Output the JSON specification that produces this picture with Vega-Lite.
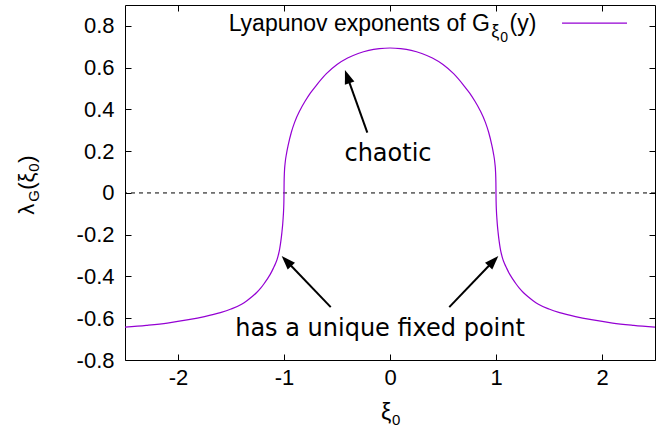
{
  "$schema": "https://vega.github.io/schema/vega-lite/v6.json",
  "width": 530,
  "height": 355,
  "autosize": {"type": "none"},
  "padding": {"left": 125, "top": 5, "right": 16, "bottom": 77},
  "background": "white",
  "config": {
    "view": {"stroke": "#000", "strokeWidth": 1},
    "axis": {"domain": false, "grid": false, "ticks": true, "tickColor": "#000", "tickSize": -6, "tickWidth": 1, "labelFont": "Liberation Sans", "labelFontSize": 22, "labelColor": "#000"}
  },
  "datasets": {
    "curve": [
      {"xi": -2.5, "lam": -0.643}, {"xi": -2.3, "lam": -0.634}, {"xi": -2.1, "lam": -0.623}, {"xi": -1.9, "lam": -0.607},
      {"xi": -1.75, "lam": -0.592}, {"xi": -1.6, "lam": -0.573}, {"xi": -1.5, "lam": -0.556}, {"xi": -1.4, "lam": -0.533},
      {"xi": -1.35, "lam": -0.516}, {"xi": -1.3, "lam": -0.496}, {"xi": -1.26, "lam": -0.478}, {"xi": -1.22, "lam": -0.456},
      {"xi": -1.19, "lam": -0.436}, {"xi": -1.16, "lam": -0.414}, {"xi": -1.13, "lam": -0.39}, {"xi": -1.1, "lam": -0.36},
      {"xi": -1.08, "lam": -0.338}, {"xi": -1.065, "lam": -0.318}, {"xi": -1.05, "lam": -0.29}, {"xi": -1.04, "lam": -0.265},
      {"xi": -1.03, "lam": -0.232}, {"xi": -1.02, "lam": -0.19}, {"xi": -1.012, "lam": -0.148}, {"xi": -1.008, "lam": -0.12},
      {"xi": -1.004, "lam": -0.085}, {"xi": -1.001, "lam": -0.04}, {"xi": -1.0, "lam": 0.0},
      {"xi": -0.999, "lam": 0.05}, {"xi": -0.996, "lam": 0.1}, {"xi": -0.99, "lam": 0.14}, {"xi": -0.975, "lam": 0.192},
      {"xi": -0.96, "lam": 0.23}, {"xi": -0.93, "lam": 0.292}, {"xi": -0.9, "lam": 0.338}, {"xi": -0.85, "lam": 0.395},
      {"xi": -0.8, "lam": 0.44}, {"xi": -0.75, "lam": 0.479}, {"xi": -0.7, "lam": 0.512}, {"xi": -0.6, "lam": 0.571},
      {"xi": -0.5, "lam": 0.615}, {"xi": -0.4, "lam": 0.646}, {"xi": -0.3, "lam": 0.668}, {"xi": -0.2, "lam": 0.683},
      {"xi": -0.1, "lam": 0.691}, {"xi": 0.0, "lam": 0.694},
      {"xi": 0.1, "lam": 0.691}, {"xi": 0.2, "lam": 0.683}, {"xi": 0.3, "lam": 0.668}, {"xi": 0.4, "lam": 0.646},
      {"xi": 0.5, "lam": 0.615}, {"xi": 0.6, "lam": 0.571}, {"xi": 0.7, "lam": 0.512}, {"xi": 0.75, "lam": 0.479},
      {"xi": 0.8, "lam": 0.44}, {"xi": 0.85, "lam": 0.395}, {"xi": 0.9, "lam": 0.338}, {"xi": 0.93, "lam": 0.292},
      {"xi": 0.96, "lam": 0.23}, {"xi": 0.975, "lam": 0.192}, {"xi": 0.99, "lam": 0.14}, {"xi": 0.996, "lam": 0.1},
      {"xi": 0.999, "lam": 0.05}, {"xi": 1.0, "lam": 0.0},
      {"xi": 1.001, "lam": -0.04}, {"xi": 1.004, "lam": -0.085}, {"xi": 1.008, "lam": -0.12}, {"xi": 1.012, "lam": -0.148},
      {"xi": 1.02, "lam": -0.19}, {"xi": 1.03, "lam": -0.232}, {"xi": 1.04, "lam": -0.265}, {"xi": 1.05, "lam": -0.29},
      {"xi": 1.065, "lam": -0.318}, {"xi": 1.08, "lam": -0.338}, {"xi": 1.1, "lam": -0.36}, {"xi": 1.13, "lam": -0.39},
      {"xi": 1.16, "lam": -0.414}, {"xi": 1.19, "lam": -0.436}, {"xi": 1.22, "lam": -0.456}, {"xi": 1.26, "lam": -0.478},
      {"xi": 1.3, "lam": -0.496}, {"xi": 1.35, "lam": -0.516}, {"xi": 1.4, "lam": -0.533}, {"xi": 1.5, "lam": -0.556},
      {"xi": 1.6, "lam": -0.573}, {"xi": 1.75, "lam": -0.592}, {"xi": 1.9, "lam": -0.607}, {"xi": 2.1, "lam": -0.623},
      {"xi": 2.3, "lam": -0.634}, {"xi": 2.5, "lam": -0.643}
    ],
    "arrows": [
      {"x1": -0.214, "y1": 0.289, "x2": -0.403, "y2": 0.557, "tx": -0.425, "ty": 0.589, "ang": 340.4},
      {"x1": -0.559, "y1": -0.547, "x2": -0.976, "y2": -0.326, "tx": -1.022, "ty": -0.302, "ang": 316.3},
      {"x1": 0.559, "y1": -0.547, "x2": 0.976, "y2": -0.326, "tx": 1.022, "ty": -0.302, "ang": 43.7}
    ],
    "notes": [
      {"label": "chaotic", "xi": -0.019, "lam": 0.155},
      {"label": "has a unique fixed point", "xi": -0.094, "lam": -0.685}
    ]
  },
  "layer": [
    {
      "data": {"values": [{"v": 0}]},
      "mark": {"type": "rule", "strokeDash": [4, 4], "color": "#000", "strokeWidth": 1},
      "encoding": {"y": {"field": "v", "type": "quantitative", "scale": {"domain": [-0.8, 0.9]}, "axis": null}}
    },
    {
      "data": {"name": "curve"},
      "mark": {"type": "line", "color": "#9400D3", "strokeWidth": 1.2, "interpolate": "monotone", "clip": true},
      "encoding": {
        "x": {"field": "xi", "type": "quantitative", "scale": {"domain": [-2.5, 2.5], "nice": false, "zero": false},
              "axis": {"orient": "bottom", "title": null, "values": [-2, -1, 0, 1, 2], "labelPadding": 13,
                       "labelExpr": "datum.value < 0 ? '-' + format(-datum.value, '~g') : format(datum.value, '~g')"}},
        "y": {"field": "lam", "type": "quantitative", "scale": {"domain": [-0.8, 0.9], "nice": false, "zero": false},
              "axis": {"orient": "left", "title": null, "values": [-0.8, -0.6, -0.4, -0.2, 0, 0.2, 0.4, 0.6, 0.8], "labelPadding": 17,
                       "labelExpr": "datum.value < 0 ? '-' + format(-datum.value, '~g') : format(datum.value, '~g')"}}
      }
    },
    {
      "data": {"name": "arrows"},
      "mark": {"type": "rule", "color": "#000", "strokeWidth": 2},
      "encoding": {
        "x": {"field": "x1", "type": "quantitative", "axis": {"orient": "top", "title": null, "values": [-2, -1, 0, 1, 2], "labels": false}},
        "y": {"field": "y1", "type": "quantitative", "axis": {"orient": "right", "title": null, "values": [-0.8, -0.6, -0.4, -0.2, 0, 0.2, 0.4, 0.6, 0.8], "labels": false}},
        "x2": {"field": "x2"},
        "y2": {"field": "y2"}
      }
    },
    {
      "data": {"name": "arrows"},
      "mark": {"type": "point", "shape": "M0,0L-0.36,1L0.36,1Z", "filled": true, "color": "#000", "opacity": 1, "size": 784, "strokeWidth": 0},
      "encoding": {
        "x": {"field": "tx", "type": "quantitative", "axis": null},
        "y": {"field": "ty", "type": "quantitative", "axis": null},
        "angle": {"field": "ang", "type": "quantitative", "scale": null}
      }
    },
    {
      "data": {"name": "notes"},
      "mark": {"type": "text", "font": "DejaVu Sans", "fontSize": 24, "align": "center", "baseline": "alphabetic", "color": "#000"},
      "encoding": {
        "x": {"field": "xi", "type": "quantitative", "axis": null},
        "y": {"field": "lam", "type": "quantitative", "axis": null},
        "text": {"field": "label"}
      }
    },
    {
      "data": {"values": [{"label": "Lyapunov exponents of G", "xi": 0.943, "lam": 0.776}]},
      "mark": {"type": "text", "font": "Liberation Sans", "fontSize": 23, "align": "right", "baseline": "alphabetic", "color": "#000"},
      "encoding": {"x": {"field": "xi", "type": "quantitative", "axis": null}, "y": {"field": "lam", "type": "quantitative", "axis": null}, "text": {"field": "label"}}
    },
    {
      "data": {"values": [{"label": "ξ", "xi": 0.955, "lam": 0.776}]},
      "mark": {"type": "text", "font": "Liberation Sans", "fontSize": 18, "align": "left", "baseline": "alphabetic", "dy": 6, "color": "#000"},
      "encoding": {"x": {"field": "xi", "type": "quantitative", "axis": null}, "y": {"field": "lam", "type": "quantitative", "axis": null}, "text": {"field": "label"}}
    },
    {
      "data": {"values": [{"label": "0", "xi": 1.04, "lam": 0.776}]},
      "mark": {"type": "text", "font": "Liberation Sans", "fontSize": 14, "align": "left", "baseline": "alphabetic", "dy": 11, "color": "#000"},
      "encoding": {"x": {"field": "xi", "type": "quantitative", "axis": null}, "y": {"field": "lam", "type": "quantitative", "axis": null}, "text": {"field": "label"}}
    },
    {
      "data": {"values": [{"label": "(y)", "xi": 1.128, "lam": 0.776}]},
      "mark": {"type": "text", "font": "Liberation Sans", "fontSize": 23, "align": "left", "baseline": "alphabetic", "color": "#000"},
      "encoding": {"x": {"field": "xi", "type": "quantitative", "axis": null}, "y": {"field": "lam", "type": "quantitative", "axis": null}, "text": {"field": "label"}}
    },
    {
      "data": {"values": [{"a": 1.623, "b": 2.236, "lam": 0.813}]},
      "mark": {"type": "rule", "color": "#9400D3", "strokeWidth": 1.2},
      "encoding": {"x": {"field": "a", "type": "quantitative", "axis": null}, "x2": {"field": "b"}, "y": {"field": "lam", "type": "quantitative", "axis": null}}
    },
    {
      "data": {"values": [{"label": "ξ", "xi": -0.085, "lam": -1.085}]},
      "mark": {"type": "text", "font": "Liberation Sans", "fontSize": 23, "align": "left", "baseline": "alphabetic", "color": "#000"},
      "encoding": {"x": {"field": "xi", "type": "quantitative", "axis": null}, "y": {"field": "lam", "type": "quantitative", "axis": null}, "text": {"field": "label"}}
    },
    {
      "data": {"values": [{"label": "0", "xi": 0.02, "lam": -1.085}]},
      "mark": {"type": "text", "font": "Liberation Sans", "fontSize": 15, "align": "left", "baseline": "alphabetic", "dy": 5, "color": "#000"},
      "encoding": {"x": {"field": "xi", "type": "quantitative", "axis": null}, "y": {"field": "lam", "type": "quantitative", "axis": null}, "text": {"field": "label"}}
    },
    {
      "data": {"values": [{"label": "λ", "xi": -3.358, "lam": -0.105}]},
      "mark": {"type": "text", "font": "Liberation Sans", "fontSize": 22, "align": "left", "baseline": "alphabetic", "angle": 270, "color": "#000"},
      "encoding": {"x": {"field": "xi", "type": "quantitative", "axis": null}, "y": {"field": "lam", "type": "quantitative", "axis": null}, "text": {"field": "label"}}
    },
    {
      "data": {"values": [{"label": "G", "xi": -3.358, "lam": -0.105}]},
      "mark": {"type": "text", "font": "Liberation Sans", "fontSize": 15, "align": "left", "baseline": "alphabetic", "angle": 270, "dx": 13, "dy": 5, "color": "#000"},
      "encoding": {"x": {"field": "xi", "type": "quantitative", "axis": null}, "y": {"field": "lam", "type": "quantitative", "axis": null}, "text": {"field": "label"}}
    },
    {
      "data": {"values": [{"label": "(ξ", "xi": -3.358, "lam": -0.105}]},
      "mark": {"type": "text", "font": "Liberation Sans", "fontSize": 22, "align": "left", "baseline": "alphabetic", "angle": 270, "dx": 25, "color": "#000"},
      "encoding": {"x": {"field": "xi", "type": "quantitative", "axis": null}, "y": {"field": "lam", "type": "quantitative", "axis": null}, "text": {"field": "label"}}
    },
    {
      "data": {"values": [{"label": "0", "xi": -3.358, "lam": -0.105}]},
      "mark": {"type": "text", "font": "Liberation Sans", "fontSize": 15, "align": "left", "baseline": "alphabetic", "angle": 270, "dx": 43, "dy": 5, "color": "#000"},
      "encoding": {"x": {"field": "xi", "type": "quantitative", "axis": null}, "y": {"field": "lam", "type": "quantitative", "axis": null}, "text": {"field": "label"}}
    },
    {
      "data": {"values": [{"label": ")", "xi": -3.358, "lam": -0.105}]},
      "mark": {"type": "text", "font": "Liberation Sans", "fontSize": 22, "align": "left", "baseline": "alphabetic", "angle": 270, "dx": 52, "color": "#000"},
      "encoding": {"x": {"field": "xi", "type": "quantitative", "axis": null}, "y": {"field": "lam", "type": "quantitative", "axis": null}, "text": {"field": "label"}}
    }
  ],
  "resolve": {"axis": {"x": "independent", "y": "independent"}}
}
